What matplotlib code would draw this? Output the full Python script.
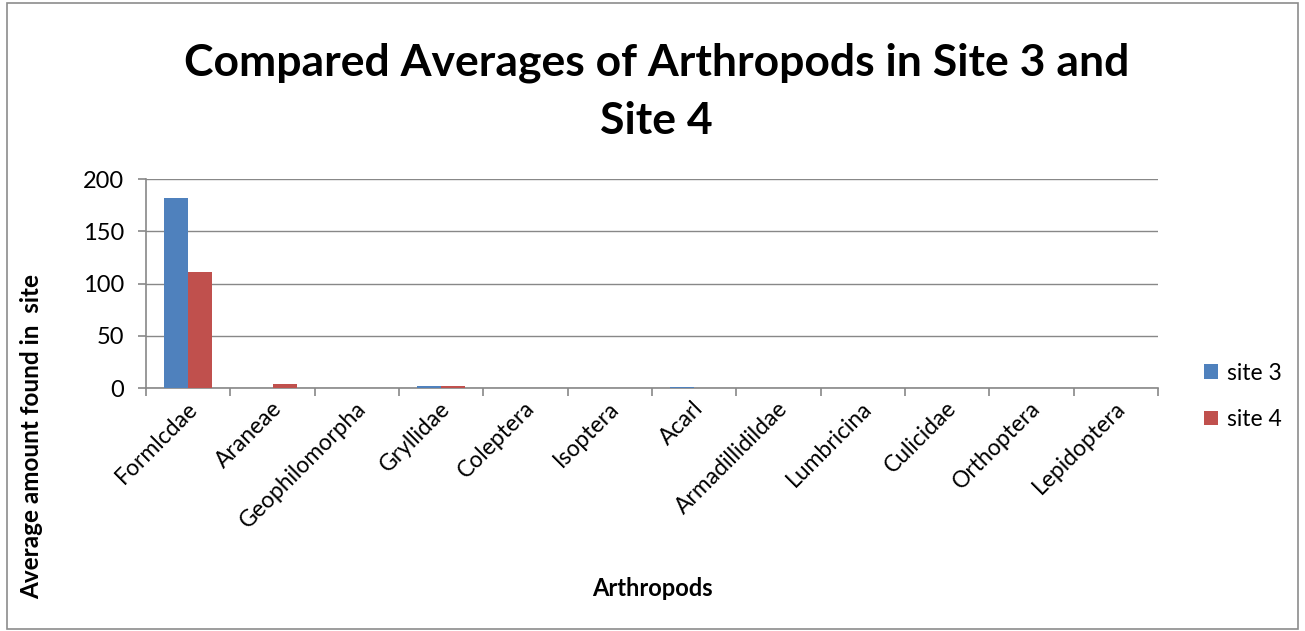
import numpy as np
import matplotlib.pyplot as plt
from matplotlib.patches import Rectangle

plt.rcParams['font.family'] = ['Lato', 'DejaVu Sans']

categories = ["Formlcdae", "Araneae", "Geophilomorpha", "Gryllidae", "Coleptera",
              "Isoptera", "Acarl", "Armadillidildae", "Lumbricina", "Culicidae",
              "Orthoptera", "Lepidoptera"]
site3 = [182, 0, 0, 2, 0, 0, 0.5, 0, 0, 0, 0, 0]
site4 = [111, 4, 0, 1.5, 0, 0, 0, 0, 0, 0, 0, 0]

BAR_WIDTH = 0.285
LABEL_SHIFT = 0.02  # rotated labels sit a hair left of the category centre
GRAY = '#888888'

fig = plt.figure(figsize=(13.05, 6.31), dpi=100)
fig.patches.append(Rectangle((0.005, 0.003), 0.99, 0.992, transform=fig.transFigure,
                             fill=False, edgecolor='#8c8c8c', linewidth=1.2))
ax = fig.add_axes([0.1119, 0.3851, 0.7755, 0.3312])

x = np.arange(len(categories))
ax.bar(x - BAR_WIDTH / 2, site3, width=BAR_WIDTH, color='#4f81bd', label='site 3', zorder=3)
ax.bar(x + BAR_WIDTH / 2, site4, width=BAR_WIDTH, color='#c0504d', label='site 4', zorder=3)

ax.set_xlim(-0.5, len(categories) - 0.5)
ax.set_ylim(0, 200)
ax.set_yticks([0, 50, 100, 150, 200])
ax.yaxis.grid(True, color=GRAY, linewidth=1, zorder=0)

ax.set_xticks(np.arange(-0.5, len(categories)), minor=False)
ax.set_xticklabels([])
ax.set_xticks(x - LABEL_SHIFT, minor=True)
ax.set_xticklabels(categories, minor=True, rotation=45, ha='right', va='top',
                   rotation_mode='anchor', fontsize=16.5)
ax.tick_params(axis='x', which='minor', length=0, pad=7)
ax.tick_params(axis='x', which='major', length=6, color=GRAY, width=1.2)
ax.tick_params(axis='y', length=6, color=GRAY, width=1.2, labelsize=17, pad=10)

for side in ['top', 'right']:
    ax.spines[side].set_visible(False)
for side in ['left', 'bottom']:
    ax.spines[side].set_color(GRAY)
    ax.spines[side].set_linewidth(1.2)

ax.set_xlabel("Arthropods", fontsize=17, fontweight='bold', va='center')
ax.xaxis.set_label_coords(0.5, -0.957)
ax.set_ylabel("Average amount found in  site", fontsize=17.5, fontweight='bold', va='center')
ax.yaxis.set_label_coords(-0.113, -0.234)

fig.suptitle("Compared Averages of Arthropods in Site 3 and\nSite 4", fontsize=32,
             fontweight='bold', x=0.503, y=0.933, linespacing=1.55)

ax.legend(loc='center left', bbox_to_anchor=(1.025, -0.04), frameon=False, fontsize=16.5,
          handlelength=0.6, handleheight=0.6, labelspacing=1.1, handletextpad=0.4)

fig.savefig("out.png", dpi=100)
